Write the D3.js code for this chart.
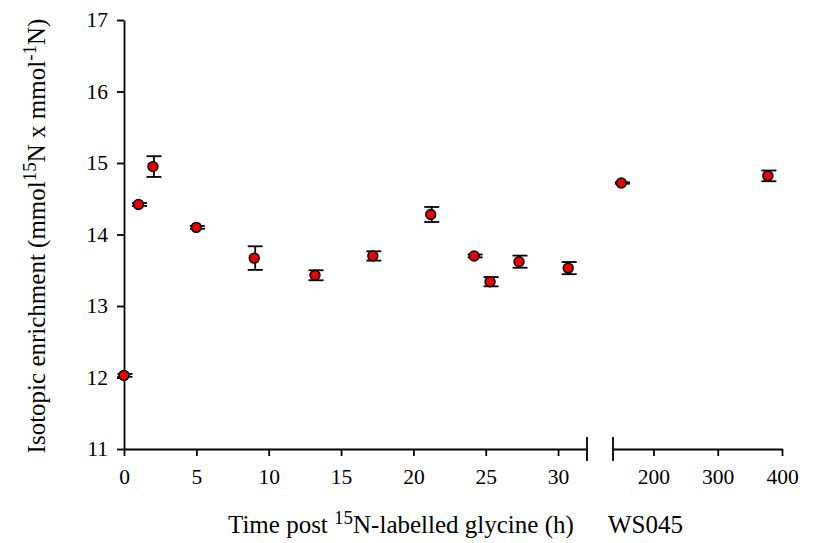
<!DOCTYPE html>
<html>
<head>
<meta charset="utf-8">
<script src="https://cdn.jsdelivr.net/npm/d3@7"></script>
<style>
  html, body { margin: 0; padding: 0; background: #fff; }
  svg { display: block; }
  svg text { font-family: "Liberation Serif", Tinos, "Times New Roman", Times, "DejaVu Serif", serif; fill: #000; }
</style>
</head>
<body>
<svg id="chart" width="814" height="543"></svg>
<script>
// ---- data ----
const times  = [0, 1, 2, 5, 9, 13.2, 17.2, 21.2, 24.2, 25.3, 27.3, 30.7, 150, 378];
const values = [12.03, 14.42, 14.95, 14.10, 13.67, 13.43, 13.70, 14.28, 13.70, 13.34, 13.62, 13.53, 14.72, 14.82];
const errors = [0.02, 0.02, 0.145, 0.02, 0.165, 0.07, 0.065, 0.105, 0.02, 0.065, 0.085, 0.085, 0.01, 0.075];
const yTicks = [11, 12, 13, 14, 15, 16, 17];
const xTicksLeft = [0, 5, 10, 15, 20, 25, 30];
const xTicksRight = [200, 300, 400];
const breakTime = 100;

const FONT = '"Liberation Serif", Tinos, "Times New Roman", Times, "DejaVu Serif", serif';
const svg = d3.select("#chart");

const y = d3.scaleLinear().domain([11, 17]).range([449, 20]);
const xL = d3.scaleLinear().domain([0, 32]).range([124, 587]);
const xR = d3.scaleLinear().domain([137, 400]).range([613, 782]);
const xPos = t => t > breakTime ? xR(t) : xL(t);

const axisStroke = 1.8;
const tickFont = "21.5px";

// Y axis
const gy = svg.append("g").attr("transform", "translate(124,0)")
  .call(d3.axisLeft(y).tickValues(yTicks).tickSize(7).tickSizeOuter(0).tickPadding(9).tickFormat(d3.format("d")));
// X axes
const gxl = svg.append("g").attr("transform", "translate(0,449)")
  .call(d3.axisBottom(xL).tickValues(xTicksLeft).tickSize(7).tickSizeOuter(0).tickPadding(13).tickFormat(d3.format("d")));
const gxr = svg.append("g").attr("transform", "translate(0,449)")
  .call(d3.axisBottom(xR).tickValues(xTicksRight).tickSize(7).tickSizeOuter(0).tickPadding(13).tickFormat(d3.format("d")));

[gy, gxl, gxr].forEach(g => {
  g.attr("font-family", FONT).attr("font-size", tickFont);
  g.select(".domain").attr("stroke", "#000").attr("stroke-width", axisStroke);
  g.selectAll(".tick line").attr("stroke", "#000").attr("stroke-width", axisStroke);
  g.selectAll(".tick text").style("font-size", tickFont).style("font-family", FONT).attr("fill", "#000");
});

// Break markers
[xL.range()[1], xR.range()[0]].forEach(px => {
  svg.append("line").attr("x1", px).attr("x2", px).attr("y1", 437).attr("y2", 461)
    .attr("stroke", "#000").attr("stroke-width", axisStroke);
});

// Error bars
const eb = svg.append("g");
times.forEach((t, i) => {
  const cx = xPos(t);
  const y1 = y(values[i] + errors[i]);
  const y2 = y(values[i] - errors[i]);
  eb.append("line").attr("x1", cx + 1).attr("x2", cx + 1).attr("y1", y1).attr("y2", y2)
    .attr("stroke", "#000").attr("stroke-width", 1.8);
  [y1, y2].forEach(yy => {
    eb.append("line").attr("x1", cx - 6.5).attr("x2", cx + 8.5).attr("y1", yy).attr("y2", yy)
      .attr("stroke", "#000").attr("stroke-width", 1.8);
  });
});

// Markers
svg.append("g").selectAll("circle").data(times).join("circle")
  .attr("cx", d => xPos(d))
  .attr("cy", (d, i) => y(values[i]))
  .attr("r", 4.9)
  .attr("fill", "#ee0000")
  .attr("stroke", "#000")
  .attr("stroke-width", 1.6);

// X title
const xt = svg.append("text").attr("x", 228).attr("y", 533).style("font-size", "25px").style("font-family", FONT);
xt.append("tspan").text("Time post ");
xt.append("tspan").attr("dy", -9).style("font-size", "19px").text("15");
xt.append("tspan").attr("dy", 9).text("N-labelled glycine (h)");
svg.append("text").attr("x", 608).attr("y", 533).style("font-size", "25px").style("font-family", FONT).text("WS045");

// Y title
const yt = svg.append("text")
  .attr("transform", "translate(45,236) rotate(-90)")
  .attr("text-anchor", "middle")
  .style("font-size", "25px").style("font-family", FONT);
yt.append("tspan").text("Isotopic enrichment (mmol");
yt.append("tspan").attr("dy", -9).style("font-size", "19px").text("15");
yt.append("tspan").attr("dy", 9).text("N x mmol");
yt.append("tspan").attr("dy", -9).style("font-size", "19px").text("-1");
yt.append("tspan").attr("dy", 9).text("N)");
</script>
</body>
</html>
